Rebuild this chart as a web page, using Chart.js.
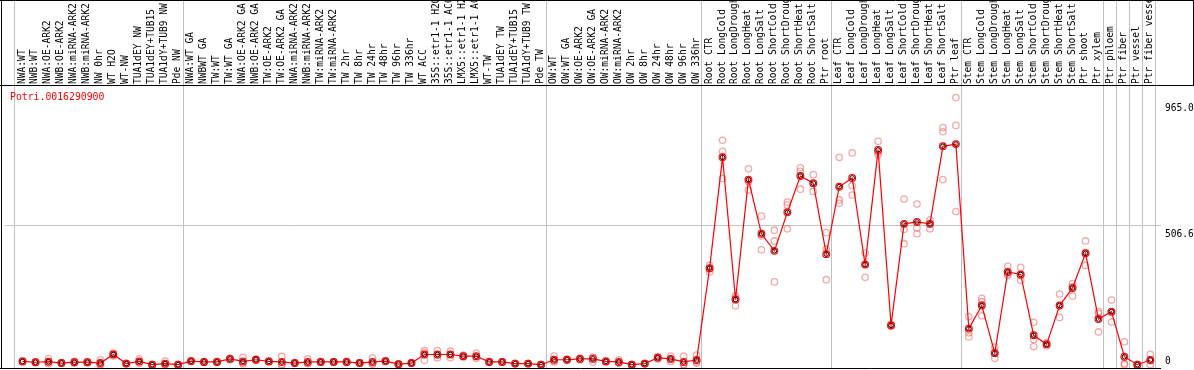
<!DOCTYPE html>
<html>
<head>
<meta charset="utf-8">
<script src="https://cdn.jsdelivr.net/npm/chart.js@4.4.1/dist/chart.umd.min.js"></script>
<style>
  html, body { margin: 0; padding: 0; background: #fff; }
  #wrap { width: 1194px; height: 370px; position: relative; }
</style>
</head>
<body>
<div id="wrap"><canvas id="expr"></canvas></div>
<script>
const geneId = 'Potri.0016290900';

const samples = [
  'NWA:WT', 'NWB:WT', 'NWA:OE-ARK2', 'NWB:OE-ARK2', 'NWA:miRNA-ARK2', 'NWB:miRNA-ARK2',
  'NW 0hr', 'WT H2O', 'WT-NW', 'TUA1dEY NW', 'TUA1dEY+TUB15', 'TUA1dY+TUB9 NW', 'Pde NW',
  'NWA:WT GA', 'NWBWT GA', 'TW:WT', 'TW:WT GA', 'NWA:OE-ARK2 GA', 'NWB:OE-ARK2 GA',
  'TW:OE-ARK2', 'TW:OE-ARK2 GA', 'NWA:miRNA-ARK2', 'NWB:miRNA-ARK2', 'TW:miRNA-ARK2',
  'TW:miRNA-ARK2', 'TW 2hr', 'TW 8hr', 'TW 24hr', 'TW 48hr', 'TW 96hr', 'TW 336hr',
  'WT ACC', '35S::etr1-1 H2O', '35S::etr1-1 ACC', 'LMX5::etr1-1 H2O', 'LMX5::etr1-1 ACC',
  'WT-TW', 'TUA1dEY TW', 'TUA1dEY+TUB15', 'TUA1dY+TUB9 TW', 'Pde TW',
  'OW:WT', 'OW:WT GA', 'OW:OE-ARK2', 'OW:OE-ARK2 GA', 'OW:miRNA-ARK2', 'OW:miRNA-ARK2',
  'OW 2hr', 'OW 8hr', 'OW 24hr', 'OW 48hr', 'OW 96hr', 'OW 336hr',
  'Root CTR', 'Root LongCold', 'Root LongDrought', 'Root LongHeat', 'Root LongSalt',
  'Root ShortCold', 'Root ShortDrought', 'Root ShortHeat', 'Root ShortSalt', 'Ptr root',
  'Leaf CTR', 'Leaf LongCold', 'Leaf LongDrought', 'Leaf LongHeat', 'Leaf LongSalt',
  'Leaf ShortCold', 'Leaf ShortDrought', 'Leaf ShortHeat', 'Leaf ShortSalt', 'Ptr leaf',
  'Stem CTR', 'Stem LongCold', 'Stem LongDrought', 'Stem LongHeat', 'Stem LongSalt',
  'Stem ShortCold', 'Stem ShortDrought', 'Stem ShortHeat', 'Stem ShortSalt', 'Ptr shoot',
  'Ptr xylem', 'Ptr phloem', 'Ptr fiber', 'Ptr vessel', 'Ptr fiber vessel'
];

// index of the first sample after each grey separator
const groupStarts = [0, 13, 41, 53, 63, 73, 84, 85, 86, 87, 88];

const meanValues = [
  12, 9, 11, 6, 9, 9, 6, 37, 4, 12, 0, 4, 0,
  13, 10, 10, 21, 12, 18, 12, 10, 6, 10, 10, 10, 10, 6, 10, 13, 2, 6,
  37, 37, 37, 31, 31, 10, 10, 4, 4, 0,
  18, 18, 21, 21, 12, 10, 0, 4, 25, 21, 10, 17,
  351, 754, 237, 673, 476, 414, 554, 686, 660, 402,
  647, 679, 364, 781, 143, 512, 519, 512, 794, 802,
  131, 215, 42, 337, 328, 107, 74, 215, 279, 405,
  166, 193, 29, 0, 17
];

const rep1 = [
  14, 10, 21, 7, 12, 11, 18, 42, 5, 21, 0, 13, 0,
  15, 11, 12, 24, 27, 20, 14, 30, 7, 21, 12, 11, 12, 7, 25, 15, 3, 7,
  51, 51, 49, 35, 42, 12, 11, 5, 5, 0,
  31, 20, 24, 27, 14, 18, 0, 5, 29, 31, 31, 35,
  361, 816, 250, 712, 540, 489, 591, 716, 691, 480,
  754, 770, 406, 812, 148, 602, 584, 527, 862, 971,
  175, 241, 64, 358, 354, 154, 80, 257, 295, 450,
  193, 235, 83, 0, 38
];

const rep2 = [
  12, 9, 8, 6, 9, 9, 0, 37, 4, 10, 0, 0, 0,
  13, 10, 10, 21, 6, 18, 12, 0, 6, 5, 10, 10, 10, 6, 3, 13, 2, 6,
  44, 35, 37, 31, 28, 10, 10, 4, 4, 0,
  13, 18, 21, 26, 12, 6, 0, 4, 25, 20, 0, 10,
  348, 776, 241, 665, 468, 450, 581, 703, 659, 420,
  599, 651, 365, 773, 143, 492, 497, 512, 847, 870,
  116, 229, 44, 330, 325, 92, 75, 215, 283, 406,
  187, 190, 4, 0, 14
];

const rep3 = [
  10, 8, 4, 5, 6, 7, 0, 32, 3, 5, 0, 0, 0,
  11, 8, 8, 18, 3, 16, 10, 0, 5, 4, 8, 9, 8, 5, 2, 11, 1, 5,
  16, 25, 25, 27, 23, 8, 9, 3, 3, 0,
  10, 16, 18, 10, 10, 6, 0, 3, 21, 12, 0, 6,
  337, 677, 214, 635, 418, 301, 494, 638, 630, 309,
  587, 617, 318, 763, 140, 440, 476, 494, 673, 557,
  101, 178, 23, 324, 307, 66, 68, 172, 250, 361,
  119, 155, 0, 0, 0
];

const yTickValues = [0, 506.6, 965.0];
const yTickLabels = ['0', '506.6', '965.0'];

const MONO = '"DejaVu Sans Mono", monospace';

function toPoints(values) {
  return values.map((v, i) => ({ x: i, y: v }));
}

function replicateSet(label, values) {
  return {
    label,
    data: toPoints(values),
    showLine: false,
    pointRadius: 3.2,
    pointBorderWidth: 1.3,
    pointBorderColor: 'rgba(236,110,110,0.6)',
    pointBackgroundColor: 'rgba(0,0,0,0)',
    clip: false,
  };
}

// separators, frame and gene id
const decorations = {
  id: 'decorations',
  beforeDatasetsDraw(chart) {
    const { ctx, scales: { x } } = chart;
    ctx.save();
    ctx.strokeStyle = '#c0c0c0';
    ctx.lineWidth = 1;
    groupStarts.forEach(b => {
      const px = Math.round(x.getPixelForValue(b - 0.64)) + 0.5;
      ctx.beginPath();
      ctx.moveTo(px, 0);
      ctx.lineTo(px, 369);
      ctx.stroke();
    });
    ctx.restore();
  },
  afterDraw(chart) {
    const { ctx, chartArea } = chart;
    ctx.save();
    ctx.strokeStyle = '#000';
    ctx.lineWidth = 1;
    ctx.beginPath();
    ctx.moveTo(0, 0.5); ctx.lineTo(1194, 0.5);
    ctx.moveTo(0, 85.5); ctx.lineTo(1194, 85.5);
    ctx.moveTo(1.5, 0); ctx.lineTo(1.5, 369);
    ctx.moveTo(1193.5, 0); ctx.lineTo(1193.5, 86);
    ctx.moveTo(0, 368.5); ctx.lineTo(chartArea.right, 368.5);
    ctx.stroke();

    ctx.fillStyle = '#ff0000';
    ctx.font = '9.8px ' + MONO;
    ctx.textBaseline = 'middle';
    ctx.textAlign = 'left';
    ctx.fillText(geneId, 10, 97);
    ctx.restore();
  },
};

function noPad(s) {
  s.paddingLeft = 0;
  s.paddingRight = 0;
  s.paddingTop = 0;
  s.paddingBottom = 0;
}

new Chart(document.getElementById('expr'), {
  type: 'line',
  data: {
    datasets: [
      {
        label: 'Mean',
        data: toPoints(meanValues),
        borderColor: '#ff0000',
        borderWidth: 1.2,
        pointRadius: 2.3,
        pointBorderWidth: 1,
        pointBorderColor: '#200000',
        pointBackgroundColor: 'rgba(0,0,0,0)',
        clip: false,
      },
      {
        label: 'Mean ring',
        data: toPoints(meanValues),
        showLine: false,
        pointRadius: 3.4,
        pointBorderWidth: 1.1,
        pointBorderColor: '#ff0000',
        pointBackgroundColor: 'rgba(0,0,0,0)',
        clip: false,
      },
      replicateSet('Rep 1', rep1),
      replicateSet('Rep 2', rep2),
      replicateSet('Rep 3', rep3),
    ],
  },
  options: {
    responsive: true,
    maintainAspectRatio: false,
    animation: false,
    events: [],
    layout: { padding: { left: 2, top: 0, right: 0, bottom: 1 } },
    plugins: {
      legend: { display: false },
      tooltip: { enabled: false },
    },
    scales: {
      x: {
        type: 'linear',
        position: 'top',
        min: -1.331,
        max: 87.823,
        afterBuildTicks: s => { s.ticks = samples.map((_, i) => ({ value: i })); },
        afterFit: s => { s.height = 86; noPad(s); },
        grid: { display: false, drawTicks: false },
        border: { display: false },
        ticks: {
          autoSkip: false,
          minRotation: 90,
          maxRotation: 90,
          padding: 2,
          labelOffset: 11,
          color: '#000',
          font: { family: MONO, size: 9.6 },
          callback: v => samples[v],
        },
      },
      y: {
        type: 'linear',
        position: 'right',
        min: 0,
        max: 1013.25,
        afterBuildTicks: s => { s.ticks = yTickValues.map(v => ({ value: v })); },
        afterFit: s => { s.width = 33; noPad(s); },
        grid: {
          drawTicks: false,
          color: ctx => (ctx.tick && ctx.tick.value === 506.6 ? '#c4c4c4' : 'rgba(0,0,0,0)'),
        },
        border: { display: false },
        ticks: {
          padding: 4,
          labelOffset: 3,
          color: '#000',
          font: { family: MONO, size: 9.6 },
          // label sits just below its line, except 0 which sits above the axis
          callback: v => {
            const t = yTickLabels[yTickValues.indexOf(v)];
            return v === 0 ? [t, ''] : ['', t];
          },
        },
      },
    },
  },
  plugins: [decorations],
});
</script>
</body>
</html>
